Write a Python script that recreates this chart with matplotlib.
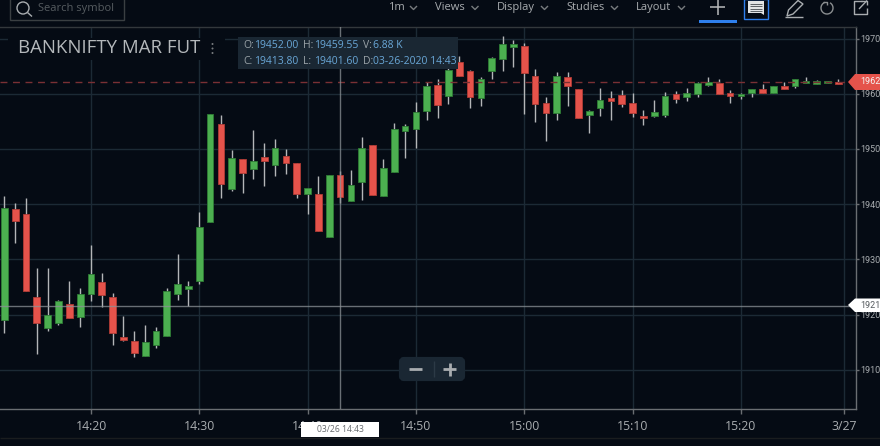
import matplotlib
matplotlib.use("Agg")
import matplotlib.pyplot as plt
from matplotlib.patches import Rectangle, FancyBboxPatch, Polygon, Circle, Arc

plt.rcParams['font.family'] = ['Open Sans', 'DejaVu Sans']

# Candles, one per minute from 14:12 on 03/26
opens = [19191,19391,19382,19231,19175,19185,19219,19196,19237,19259,19231,19159,19152,19125,19145,19161,19237,19246,19260,19367,
         19546,19427,19482,19464,19486,19471,19487,19474,19419,19418,19341,19452,19405,19441,19508,19415,19459,19533,19537,19569,
         19616,19596,19657,19641,19592,19642,19663,19685,19686,19633,19583,19565,19630,19608,19562,19575,19592,19598,19583,19560,
         19560,19561,19600,19595,19600,19616,19619,19602,19596,19602,19608,19602,19614,19614,19619,19617.6,19619,19622]
highs = [19415,19403,19412,19284,19284,19226,19261,19249,19326,19275,19239,19197,19170,19181,19177,19248,19310,19261,19386,19564,
         19562,19498,19482,19534,19511,19519,19500,19474,19429,19451,19453,19459.55,19462,19521,19508,19481,19548,19545,19585,19621,
         19626,19665,19668,19644,19631,19666,19705,19697,19692,19645,19594,19640,19640,19608,19571,19610,19605,19607,19602,19571,
         19589,19603,19605,19610,19621,19630,19626,19607,19602,19608,19618,19615,19622,19626,19630,19625,19624,19627]
lows = [19166,19330,19243,19128,19170,19182,19194,19178,19225,19214,19145,19152,19123,19125,19140,19161,19226,19216,19255,19367,
        19412,19424,19421,19446,19433,19451,19455,19412,19382,19352,19341,19401.6,19405,19408,19417,19415,19459,19484,19502,19552,
        19557,19581,19633,19575,19578,19627,19642,19649,19564,19549,19514,19552,19577,19557,19529,19560,19552,19576,19558,19543,
        19558,19558,19583,19587,19595,19614,19600,19584,19590,19595,19602,19602,19609,19610,19619,19617.6,19619,19618]
closes = [19394,19370,19243,19184,19200,19225,19194,19237,19274,19235,19167,19154,19130,19150,19170,19242,19255,19252,19358,19564,
          19436,19484,19457,19478,19478,19502,19475,19419,19429,19352,19453,19413.8,19434,19502,19417,19465,19536,19542,19567,19614,
          19580,19644,19633,19595,19626,19664,19690,19690,19637,19582,19565,19632,19615,19557,19569,19588,19587,19582,19565,19556,
          19567,19596,19590,19602,19619,19621,19600,19596,19599.5,19608,19602,19614,19609,19626,19624,19622.5,19624,19618]

y_ticks = [19100,19200,19300,19400,19500,19600,19700]
y_labels = ['1910','1920','1930','1940','1950','1960','1970']
x_ticks = [8,18,28,38,48,58,68,77.5]
x_labels = ['14:20','14:30','14:40','14:50','15:00','15:10','15:20','3/27']
last_price = 19621
cross_price = 19215.6
cross_candle = 31

BG = '#050b14'
GRID = '#1c2a35'
GREEN = '#4caf50'
RED = '#e5534b'
AXIS = '#6a6e72'
TXT = '#a9adb0'

W, H = 880, 446
fig = plt.figure(figsize=(W/100, H/100), dpi=100, facecolor=BG)
ax = fig.add_axes([0, 1-409/H, 855.7/W, (409-27)/H], facecolor=BG)
ax.set_xlim(-0.4, 78.6)
ax.set_ylim(19029, 19721)

ax.set_xticks(x_ticks, x_labels)
ax.set_yticks(y_ticks, y_labels)
ax.yaxis.tick_right()
ax.tick_params(axis='x', colors=AXIS, labelcolor=TXT, length=3.5, width=1, labelsize=8.8, pad=4.5)
ax.tick_params(axis='y', colors=AXIS, labelcolor=TXT, length=2, width=1, labelsize=6.5, pad=1.5)
for t in ax.get_yticklabels():
    t.set_family('Roboto')
ax.grid(True, color=GRID, lw=1)
ax.set_axisbelow(True)
ax.spines['left'].set_visible(False)
for s in ['top', 'bottom', 'right']:
    ax.spines[s].set_color(AXIS)
    ax.spines[s].set_linewidth(1)
ax.spines['top'].set_color('#33383c')

for i, (o, h, l, c) in enumerate(zip(opens, highs, lows, closes)):
    col = GREEN if c >= o else RED
    edge = '#2f7d35' if c >= o else '#b03c36'
    ax.vlines(i, l, h, color='#b4b6b8', lw=1, zorder=2)
    ax.bar(i, abs(c-o), bottom=min(o, c), width=0.62, color=col, edgecolor=edge, lw=0.6, zorder=3)

ax.axhline(last_price, color='#7a3034', lw=1, ls=(0, (5, 4)), zorder=4)
ax.axhline(cross_price, color='#8c9296', lw=1, alpha=0.75, zorder=5)
ax.axvline(cross_candle, color='#8c9296', lw=1, alpha=0.75, zorder=5)

# Interface overlay in pixel coordinates
ov = fig.add_axes([0, 0, 1, 1], facecolor='none')
ov.set_xlim(0, W)
ov.set_ylim(H, 0)
ov.axis('off')

def line(xs, ys, color=TXT, lw=1.0):
    ov.plot(xs, ys, color=color, lw=lw, solid_capstyle='butt')

# Toolbar
ov.add_patch(Rectangle((10, -2), 114, 22, fc='none', ec='#3a3f42', lw=1))
ov.add_patch(Circle((23, 8), 6, fc='none', ec='#a9adb0', lw=1))
line([27.5, 32], [12.5, 16.5], '#a9adb0')
ov.text(38, 8.5, 'Search symbol', color='#565c60', fontsize=8, va='center', ha='left')
for label, tx, cx in [('1m', 388, 413.5), ('Views', 435, 475), ('Display', 497, 544.5),
                      ('Studies', 566, 614.5), ('Layout', 636, 681.5)]:
    ov.text(tx, 7.5, label, color=TXT, fontsize=8, va='center', ha='left')
    line([cx-3.5, cx, cx+3.5], [6, 9.5, 6], '#777b7e')
line([710, 725], [7, 7], '#b8babc', 1.1)
line([717.5, 717.5], [0, 15], '#b8babc', 1.1)
ov.add_patch(Rectangle((699, 20), 38, 2.6, fc='#2f80ed', ec='none'))
ov.add_patch(Rectangle((743.5, -1), 24.5, 20, fc='none', ec='#2f80ed', lw=1))
ov.add_patch(Polygon([(748, 1), (764, 1), (764, 15), (761, 13), (748, 13)], fc='#e2e4e5', ec='none'))
for yy in [3.5, 6, 8.5, 11]:
    line([750, 762], [yy, yy], '#5a5f63', 0.7)
ov.add_patch(Polygon([(787, 16), (788.5, 10), (798, 0.5), (803, 4), (793, 14)], fc='none', ec='#a9adb0', lw=1))
line([785, 803], [16.5, 16.5], '#a9adb0')
ov.add_patch(Arc((827, 8), 12, 12, theta1=-60, theta2=250, color='#8a8e90', lw=1))
line([822.5, 827, 827], [2, 2, 5], '#8a8e90')
line([862, 853.5, 853.5, 867, 867], [1, 1, 14, 14, 8], '#a9adb0')
line([859, 867], [9, 0.5], '#a9adb0')
line([861, 867, 867], [0.5, 0.5, 5], '#a9adb0')
line([0, 880], [437.5, 437.5], '#1a1d1f')

# Title
ov.add_patch(Rectangle((8, 38), 217, 22, fc=BG, ec='none'))
ov.text(18, 48, 'BANKNIFTY MAR FUT', color='#b4b8bb', fontsize=13.4, va='center', ha='left')
for yy in [44, 48.5, 53]:
    ov.add_patch(Circle((212.5, yy), 1, fc='#777b7e', ec='none'))

# Value box
ov.add_patch(Rectangle((238, 37), 220, 32, fc='#1a2733', ec='none'))
BLUE = '#6aa8d8'
GR = '#9aa3a8'
for lab, val, lx, vx, yy in [('O:', '19452.00', 243, 254, 46), ('H:', '19459.55', 303, 314, 46),
                             ('V:', '6.88 K', 363, 373, 46), ('C:', '19413.80', 243, 254, 62),
                             ('L:', '19401.60', 303, 314, 62), ('D:', '03-26-2020 14:43', 363, 373, 62)]:
    ov.text(lx, yy, lab, color=GR, fontsize=7.5, va='center', ha='left')
    ov.text(vx, yy, val, color=BLUE, fontsize=7.5, va='center', ha='left')

# Price tags
ov.add_patch(Polygon([(848, 82), (855, 74), (880, 74), (880, 90), (855, 90)], fc=RED, ec='none'))
ov.text(860.5, 82, '1962', color='#f4f4f4', fontsize=6.5, va='center', ha='left', family='Roboto')
ov.add_patch(Polygon([(848, 305), (855, 298.5), (880, 298.5), (880, 312), (855, 312)], fc='white', ec='none'))
ov.text(860.5, 305.5, '1921', color='#555a5e', fontsize=6.5, va='center', ha='left', family='Roboto')

# Zoom control
ov.add_patch(FancyBboxPatch((401, 359), 62, 20, boxstyle='round,pad=0,rounding_size=3', fc='#1a2733', ec='#1a2733', lw=3))
line([409, 422], [369, 369], '#a9adb0', 2)
line([443, 456], [369, 369], '#a9adb0', 2)
line([449.5, 449.5], [362.5, 375.5], '#a9adb0', 2)
line([433.5, 433.5], [361, 377], '#2c3a46')

# Crosshair date
ov.add_patch(Rectangle((301, 422), 78, 15, fc='white', ec='none'))
ov.text(340, 430, '03/26 14:43', color='#666a6e', fontsize=6.2, va='center', ha='center')

fig.savefig('out.png', dpi=100, facecolor=BG)
